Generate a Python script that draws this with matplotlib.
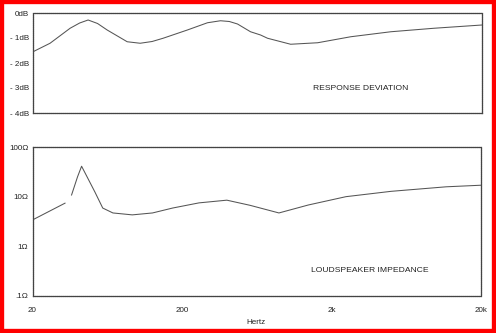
import matplotlib
matplotlib.use("Agg")
import matplotlib.pyplot as plt
from matplotlib.patches import Rectangle

plt.rcParams['font.family'] = ['Liberation Sans', 'DejaVu Sans']

# response deviation
resp_freq = [20, 26, 35.4, 41, 46.7, 54, 62.6, 85.2, 104, 125, 148, 215, 293,
             358, 410, 465, 568, 663, 738, 1053, 1596, 2655, 4920, 9560, 20000]
resp_db = [-1.55, -1.21, -0.61, -0.40, -0.28, -0.42, -0.68, -1.15, -1.21, -1.14,
           -1.01, -0.68, -0.39, -0.31, -0.34, -0.44, -0.75, -0.88, -1.01, -1.25,
           -1.19, -0.95, -0.75, -0.61, -0.48]

# impedance (ohms), low end drawn separately (there is a gap in the trace)
imp_lo_freq = [20, 33]
imp_lo_ohm = [3.4, 7.4]
imp_freq = [36.5, 40, 42.6, 46.7, 52.3, 59, 69, 93, 127, 173, 260, 399, 570,
            890, 1400, 2500, 5000, 11700, 20000]
imp_ohm = [10.8, 25, 41, 24, 12.4, 5.9, 4.7, 4.3, 4.7, 5.9, 7.5, 8.5, 6.7,
           4.7, 6.8, 10, 12.8, 15.8, 17]

db_ticks = [0, -1, -2, -3, -4]
db_labels = ['0dB', '- 1dB', '- 2dB', '- 3dB', '- 4dB']
ohm_ticks = [100, 10, 1, 0.1]
ohm_labels = ['100Ω', '10Ω', '1Ω', '.1Ω']
hz_ticks = [20, 200, 2000, 20000]
hz_labels = ['20', '200', '2k', '20k']

fig = plt.figure(figsize=(4.96, 3.33), dpi=100)
line_col = '#555555'
spine_style = dict(color='#444444', linewidth=0.9, linestyle=(0, (1, 0.6)))

ax1 = fig.add_axes([33 / 496, 1 - 113 / 333, 449 / 496, 100 / 333])
ax1.plot(resp_freq, resp_db, color=line_col, linewidth=0.75)
ax1.set_xscale('log')
ax1.set_xlim(20, 20000)
ax1.set_ylim(-4, 0)
ax1.set_yticks(db_ticks)
ax1.set_yticklabels(db_labels)
ax1.set_xticks([])
ax1.minorticks_off()
ax1.text(0.73, 0.24, 'RESPONSE DEVIATION', transform=ax1.transAxes,
         ha='center', va='center', fontsize=6.1, color='#222222')

ax2 = fig.add_axes([32.5 / 496, 1 - 296 / 333, 448.5 / 496, 149 / 333])
ax2.plot(imp_lo_freq, imp_lo_ohm, color=line_col, linewidth=0.75)
ax2.plot(imp_freq, imp_ohm, color=line_col, linewidth=0.75)
ax2.set_xscale('log')
ax2.set_yscale('log')
ax2.set_xlim(20, 20000)
ax2.set_ylim(0.1, 100)
ax2.set_yticks(ohm_ticks)
ax2.set_yticklabels(ohm_labels)
ax2.set_xticks(hz_ticks)
ax2.set_xticklabels(hz_labels)
ax2.minorticks_off()
ax2.text(0.753, 0.17, 'LOUDSPEAKER IMPEDANCE', transform=ax2.transAxes,
         ha='center', va='center', fontsize=6.1, color='#222222')
ax2.text(0.498, -0.175, 'Hertz', transform=ax2.transAxes,
         ha='center', va='center', fontsize=5.8, color='#222222')

for ax in (ax1, ax2):
    for s in ax.spines.values():
        s.set(**spine_style)
    ax.tick_params(length=0, labelsize=5.8, colors='#222222', pad=3)
ax2.tick_params(axis='x', pad=8)

# red frame around the picture
fig.patches.append(Rectangle((0, 0), 1, 1, transform=fig.transFigure,
                             fill=False, edgecolor='red', linewidth=6))

fig.savefig('out.png', dpi=100)
